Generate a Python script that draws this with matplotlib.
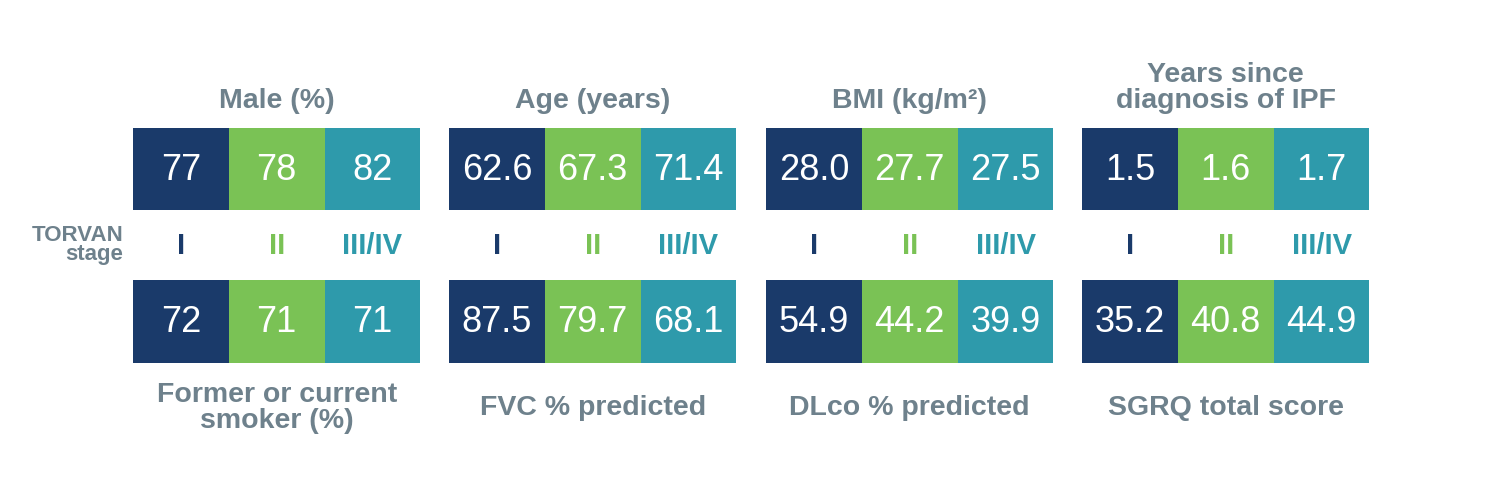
import matplotlib.pyplot as plt

# ------------------------------------------------------------
# Data
# ------------------------------------------------------------
stages = ["I", "II", "III/IV"]

top_titles = ["Male (%)", "Age (years)", "BMI (kg/m²)", "Years since\ndiagnosis of IPF"]
top_values = [
    ["77", "78", "82"],
    ["62.6", "67.3", "71.4"],
    ["28.0", "27.7", "27.5"],
    ["1.5", "1.6", "1.7"],
]

bottom_titles = ["Former or current\nsmoker (%)", "FVC % predicted", "DLco % predicted", "SGRQ total score"]
bottom_values = [
    ["72", "71", "71"],
    ["87.5", "79.7", "68.1"],
    ["54.9", "44.2", "39.9"],
    ["35.2", "40.8", "44.9"],
]

# ------------------------------------------------------------
# Style / layout
# ------------------------------------------------------------
cores = ["#1a3a6a", "#7ac255", "#2e9aab"]
cinza = "#6e818c"
fonte = "Liberation Sans"

grupo_x0 = [133, 449, 766, 1082]
cel_w = 95.8
linha_topo = (128, 210)
linha_base = (280, 363)
y_estagio = 254   # baseline dos rotulos de estagio
entre_linhas = 26


def titulo(x, y_ultima, texto):
    # escreve linha a linha, ultima linha com baseline em y_ultima
    linhas = texto.split("\n")
    for k, lin in enumerate(linhas):
        y = y_ultima - (len(linhas) - 1 - k) * entre_linhas
        ax.text(x, y, lin, ha="center", va="baseline", color=cinza,
                fontsize=20.5, fontweight="bold", family=fonte)


fig = plt.figure(figsize=(15.08, 4.84), dpi=100)
ax = fig.add_axes([0, 0, 1, 1])
ax.set_xlim(0, 1508)
ax.set_ylim(484, 0)
ax.axis("off")

for g in range(4):
    xs = [grupo_x0[g] + i * cel_w for i in range(3)]
    centros = [x + cel_w / 2 for x in xs]

    # linha de cima
    ax.bar(xs, linha_topo[1] - linha_topo[0], width=cel_w, bottom=linha_topo[0],
           align="edge", color=cores, linewidth=0)
    # linha de baixo
    ax.bar(xs, linha_base[1] - linha_base[0], width=cel_w, bottom=linha_base[0],
           align="edge", color=cores, linewidth=0)

    for i in range(3):
        ax.text(centros[i], (linha_topo[0] + linha_topo[1]) / 2 + 1, top_values[g][i],
                ha="center", va="center", color="white", fontsize=26, family=fonte)
        ax.text(centros[i], (linha_base[0] + linha_base[1]) / 2 + 1, bottom_values[g][i],
                ha="center", va="center", color="white", fontsize=26, family=fonte)
        ax.text(centros[i], y_estagio, stages[i], ha="center", va="baseline",
                color=cores[i], fontsize=21, fontweight="bold", family=fonte)

    meio = grupo_x0[g] + 1.5 * cel_w
    titulo(meio, 108, top_titles[g])
    n = bottom_titles[g].count("\n") + 1
    titulo(meio, 415 + (n - 1) * entre_linhas / 2, bottom_titles[g])

ax.text(123, 241, "TORVAN", ha="right", va="baseline", color=cinza,
        fontsize=16, fontweight="bold", family=fonte)
ax.text(123, 260, "stage", ha="right", va="baseline", color=cinza,
        fontsize=16, fontweight="bold", family=fonte)

fig.savefig("out.png", dpi=100)
